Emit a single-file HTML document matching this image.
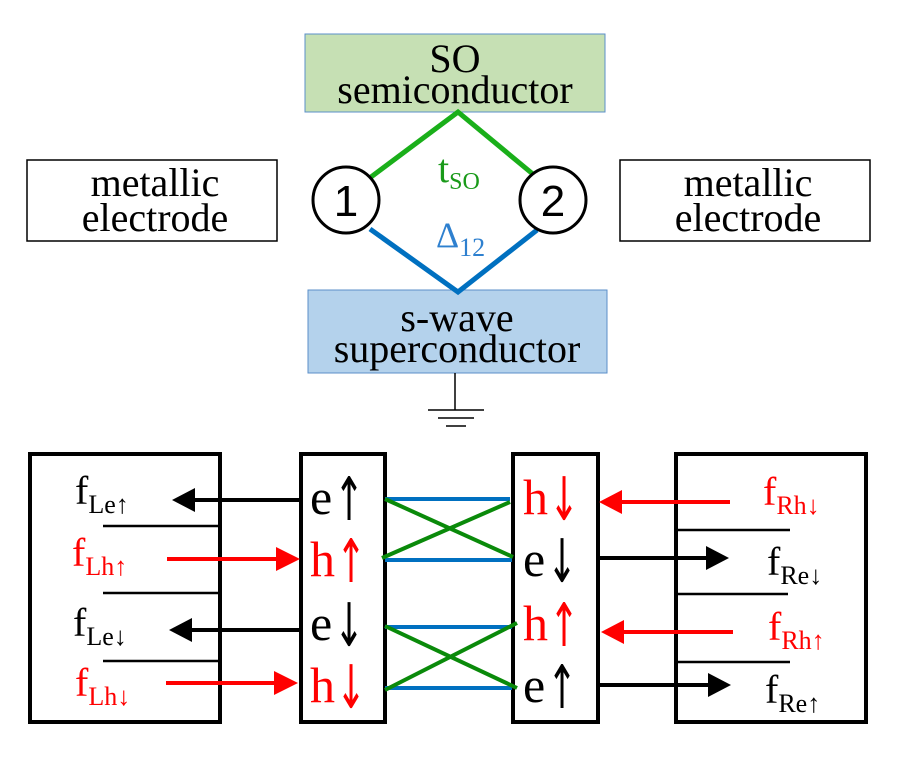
<!DOCTYPE html>
<html><head><style>body{margin:0;background:#fff}svg text{font-family:"Liberation Serif",serif}svg text.s{font-family:"DejaVu Sans",sans-serif}svg text.ls{font-family:"Liberation Sans",sans-serif}</style></head><body>
<svg width="897" height="774" viewBox="0 0 897 774" xmlns="http://www.w3.org/2000/svg">
<!-- top -->
<rect x="305" y="34" width="300" height="78" fill="#c6e0b4" stroke="#5b8fc9" stroke-width="1"/>
<text x="455" y="72" font-size="40" text-anchor="middle">SO</text>
<text x="455" y="103" font-size="40" text-anchor="middle">semiconductor</text>
<rect x="308" y="290" width="299" height="83" fill="#b4d2ec" stroke="#5b8fc9" stroke-width="1"/>
<text x="457" y="331" font-size="40" text-anchor="middle">s-wave</text>
<text x="457" y="362" font-size="40" text-anchor="middle">superconductor</text>
<line x1="455" y1="373" x2="455" y2="410" stroke="#000" stroke-width="1.5"/>
<line x1="428" y1="410" x2="484" y2="410" stroke="#000" stroke-width="1.5"/>
<line x1="438" y1="418" x2="474" y2="418" stroke="#000" stroke-width="1.5"/>
<line x1="446" y1="426" x2="466" y2="426" stroke="#000" stroke-width="1.5"/>
<polyline points="371,177 458,112 534,175" fill="none" stroke="#1aaf1a" stroke-width="5"/>
<polyline points="370,229 458,292 537,230" fill="none" stroke="#0070c0" stroke-width="5"/>
<circle cx="346" cy="200" r="33" fill="#fff" stroke="#000" stroke-width="3"/>
<circle cx="553" cy="200" r="33" fill="#fff" stroke="#000" stroke-width="3"/>
<text class="ls" x="346" y="216" font-size="44" text-anchor="middle">1</text>
<text class="ls" x="553" y="216" font-size="44" text-anchor="middle">2</text>
<text x="438" y="182" font-size="40" fill="#1a9a1a">t<tspan font-size="24" dy="7">SO</tspan></text>
<text x="436" y="247" font-size="36" fill="#2e80cf">Δ<tspan font-size="26" dy="9">12</tspan></text>
<rect x="27" y="160" width="250" height="81" fill="#fff" stroke="#000" stroke-width="1.5"/>
<text x="155" y="196" font-size="40" text-anchor="middle">metallic</text>
<text x="155" y="231" font-size="40" text-anchor="middle">electrode</text>
<rect x="620" y="160" width="250" height="81" fill="#fff" stroke="#000" stroke-width="1.5"/>
<text x="748" y="196" font-size="40" text-anchor="middle">metallic</text>
<text x="748" y="231" font-size="40" text-anchor="middle">electrode</text>
<!-- bottom boxes -->
<g fill="none" stroke="#000" stroke-width="4">
<rect x="30" y="454" width="190" height="268"/>
<rect x="301" y="454" width="84" height="268"/>
<rect x="513" y="454" width="85" height="268"/>
<rect x="676" y="454" width="190" height="268"/>
</g>
<g stroke="#000" stroke-width="2.5">
<line x1="103" y1="526" x2="218" y2="526"/><line x1="103" y1="593" x2="218" y2="593"/><line x1="103" y1="661" x2="218" y2="661"/>
<line x1="677" y1="530" x2="790" y2="530"/><line x1="677" y1="594" x2="788" y2="594"/><line x1="677" y1="662" x2="790" y2="662"/>
</g>
<!-- links -->
<g stroke-width="4">
<line x1="385" y1="499" x2="510" y2="499" stroke="#0070c0"/>
<line x1="385" y1="560" x2="512" y2="560" stroke="#0070c0"/>
<line x1="385" y1="627" x2="512" y2="627" stroke="#0070c0"/>
<line x1="385" y1="688" x2="512" y2="688" stroke="#0070c0"/>
<line x1="385" y1="499" x2="513" y2="557" stroke="#0a8a0a"/>
<line x1="382" y1="558" x2="510" y2="502" stroke="#0a8a0a"/>
<line x1="385" y1="626" x2="517" y2="688" stroke="#0a8a0a"/>
<line x1="385" y1="690" x2="517" y2="623" stroke="#0a8a0a"/>
</g>
<!-- arrows -->
<g stroke-width="4">
<line x1="299" y1="500" x2="190" y2="500" stroke="#000"/><path d="M172,500 L195,488 L195,512z" fill="#000"/>
<line x1="299" y1="630" x2="188" y2="630" stroke="#000"/><path d="M169,630 L192,618 L192,642z" fill="#000"/>
<line x1="167" y1="559" x2="280" y2="559" stroke="#f00"/><path d="M300,559 L276,547 L276,571z" fill="#f00"/>
<line x1="166" y1="683" x2="278" y2="683" stroke="#f00"/><path d="M298,683 L274,671 L274,695z" fill="#f00"/>
<line x1="730" y1="502" x2="620" y2="502" stroke="#f00"/><path d="M599,502 L622,490 L622,514z" fill="#f00"/>
<line x1="733" y1="632" x2="622" y2="632" stroke="#f00"/><path d="M601,632 L624,620 L624,644z" fill="#f00"/>
<line x1="599" y1="558" x2="710" y2="558" stroke="#000"/><path d="M729,558 L706,546 L706,570z" fill="#000"/>
<line x1="599" y1="685" x2="712" y2="685" stroke="#000"/><path d="M731,685 L708,673 L708,697z" fill="#000"/>
</g>
<!-- state labels -->
<g font-size="50">
<text x="310" y="514">e</text><text class="s" transform="translate(334,520) scale(0.9,1.5)" font-size="40">↑</text>
<text x="310" y="576" fill="#f00">h</text><text class="s" transform="translate(336,582) scale(0.9,1.5)" fill="#f00" font-size="40">↑</text>
<text x="310" y="640">e</text><text class="s" transform="translate(334,646) scale(0.9,1.5)" font-size="40">↓</text>
<text x="310" y="702" fill="#f00">h</text><text class="s" transform="translate(336,708) scale(0.9,1.5)" fill="#f00" font-size="40">↓</text>
<text x="523" y="514" fill="#f00">h</text><text class="s" transform="translate(549,520) scale(0.9,1.5)" fill="#f00" font-size="40">↓</text>
<text x="523" y="576">e</text><text class="s" transform="translate(547,582) scale(0.9,1.5)" font-size="40">↓</text>
<text x="523" y="640" fill="#f00">h</text><text class="s" transform="translate(549,646) scale(0.9,1.5)" fill="#f00" font-size="40">↑</text>
<text x="523" y="702">e</text><text class="s" transform="translate(547,708) scale(0.9,1.5)" font-size="40">↑</text>
</g>
<!-- f labels -->
<g font-size="40">
<text x="75" y="504">f<tspan font-size="26" dy="9">Le↑</tspan></text>
<text x="72" y="566" fill="#f00">f<tspan font-size="26" dy="9">Lh↑</tspan></text>
<text x="73" y="636">f<tspan font-size="26" dy="9">Le↓</tspan></text>
<text x="75" y="696" fill="#f00">f<tspan font-size="26" dy="9">Lh↓</tspan></text>
<text x="763" y="505" fill="#f00">f<tspan font-size="26" dy="9">Rh↓</tspan></text>
<text x="767" y="575">f<tspan font-size="26" dy="9">Re↓</tspan></text>
<text x="768" y="640" fill="#f00">f<tspan font-size="26" dy="9">Rh↑</tspan></text>
<text x="765" y="703">f<tspan font-size="26" dy="9">Re↑</tspan></text>
</g>
</svg>
</body></html>
